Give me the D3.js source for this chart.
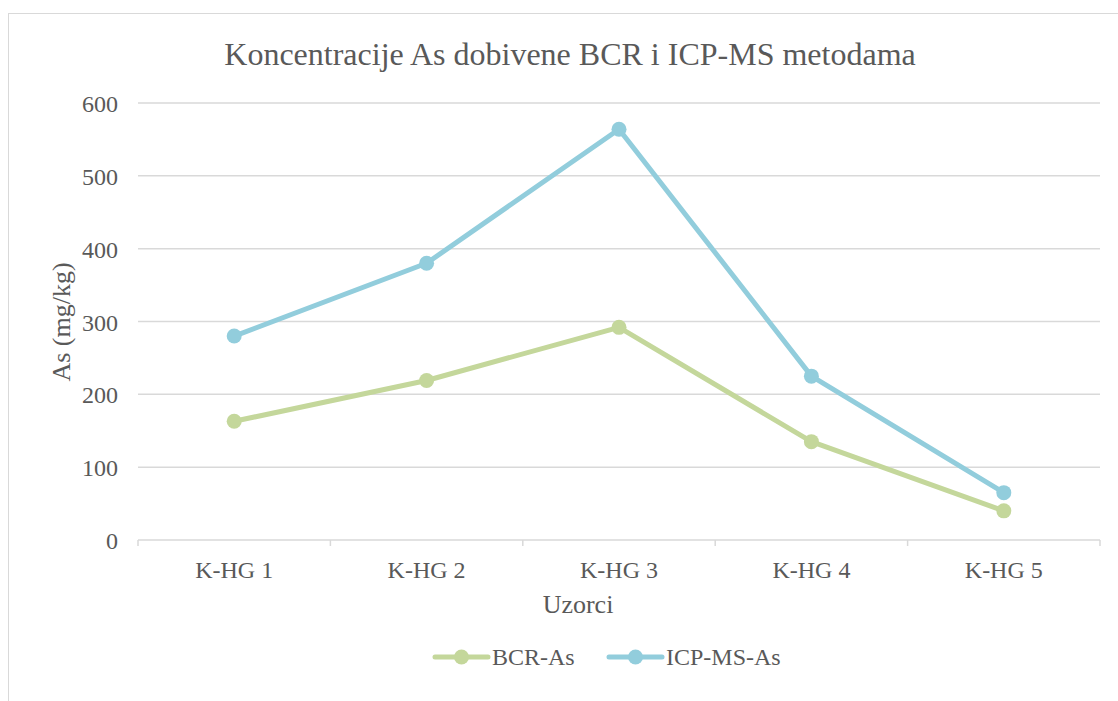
<!DOCTYPE html>
<html>
<head>
<meta charset="utf-8">
<script src="https://cdn.jsdelivr.net/npm/d3@7"></script>
<style>
  body { margin: 0; background: #fff; }
</style>
</head>
<body>
<div id="chart"></div>
<script>
const categories = ["K-HG 1", "K-HG 2", "K-HG 3", "K-HG 4", "K-HG 5"];
const bcr_as = [163, 219, 292, 135, 40];
const icp_as = [280, 380, 564, 225, 65];
const y_ticks = [0, 100, 200, 300, 400, 500, 600];
const series_names = ["BCR-As", "ICP-MS-As"];

const W = 1118, H = 701;
const plot = {left: 138, right: 1100, top: 103, bottom: 540};
const colors = ["#C4D79B", "#92CDDC"];
const font = "'Liberation Serif', 'DejaVu Serif', serif";

const svg = d3.select("#chart").append("svg")
    .attr("width", W)
    .attr("height", H)
    .attr("font-family", font);

//chart frame
svg.append("rect")
    .attr("x", 8.5).attr("y", 13.5)
    .attr("width", W).attr("height", H)
    .attr("fill", "none")
    .attr("stroke", "#d9d9d9");

function label(sel) {
    return sel.attr("font-family", font).attr("fill", "#595959");
}

label(svg.append("text"))
    .attr("x", 570).attr("y", 65)
    .attr("text-anchor", "middle")
    .attr("font-size", 32)
    .text("Koncentracije As dobivene BCR i ICP-MS metodama");

const x = d3.scaleBand()
    .domain(categories)
    .range([plot.left, plot.right]);
const y = d3.scaleLinear()
    .domain([0, 600])
    .range([plot.bottom, plot.top]);

//gridlines
svg.append("g").selectAll("line")
    .data(y_ticks.filter(d => d > 0))
    .enter()
    .append("line")
    .attr("x1", plot.left).attr("x2", plot.right)
    .attr("y1", d => y(d)).attr("y2", d => y(d))
    .attr("stroke", "#d9d9d9")
    .attr("stroke-width", 1.5);

//y tick labels
label(svg.append("g").selectAll("text")
    .data(y_ticks)
    .enter()
    .append("text"))
    .attr("x", 118)
    .attr("y", d => y(d) + 9)
    .attr("text-anchor", "end")
    .attr("font-size", 24)
    .text(d => d);

//x axis
const xAxis = svg.append("g")
    .attr("transform", `translate(0,${plot.bottom})`);
xAxis.append("line")
    .attr("x1", plot.left).attr("x2", plot.right)
    .attr("stroke", "#d9d9d9").attr("stroke-width", 1.5);
const bounds = categories.map(c => x(c)).concat([plot.right]);
xAxis.selectAll("line.tick")
    .data(bounds)
    .enter()
    .append("line")
    .attr("class", "tick")
    .attr("x1", d => d).attr("x2", d => d)
    .attr("y1", 0).attr("y2", 6)
    .attr("stroke", "#d9d9d9").attr("stroke-width", 1.5);
label(xAxis.selectAll("text")
    .data(categories)
    .enter()
    .append("text"))
    .attr("x", d => x(d) + x.bandwidth()/2)
    .attr("y", 38)
    .attr("text-anchor", "middle")
    .attr("font-size", 24)
    .text(d => d);

//axis titles
label(svg.append("text"))
    .attr("transform", "translate(70,322) rotate(-90)")
    .attr("text-anchor", "middle")
    .attr("font-size", 26)
    .text("As (mg/kg)");
label(svg.append("text"))
    .attr("x", 578).attr("y", 613)
    .attr("text-anchor", "middle")
    .attr("font-size", 26)
    .text("Uzorci");

//lines
const line = d3.line()
    .x((d, i) => x(categories[i]) + x.bandwidth()/2)
    .y(d => y(d));
[bcr_as, icp_as].forEach((vals, k) => {
    svg.append("path")
        .datum(vals)
        .attr("d", line)
        .attr("fill", "none")
        .attr("stroke", colors[k])
        .attr("stroke-width", 5)
        .attr("stroke-linejoin", "round");
    svg.append("g").selectAll("circle")
        .data(vals)
        .enter()
        .append("circle")
        .attr("cx", (d, i) => x(categories[i]) + x.bandwidth()/2)
        .attr("cy", d => y(d))
        .attr("r", 7.5)
        .attr("fill", colors[k]);
});

//legend
const legend_x = [433, 607];
series_names.forEach((name, k) => {
    const g = svg.append("g").attr("transform", `translate(${legend_x[k]},657)`);
    g.append("line")
        .attr("x1", 2).attr("x2", 55)
        .attr("stroke", colors[k])
        .attr("stroke-width", 5)
        .attr("stroke-linecap", "round");
    g.append("circle")
        .attr("cx", 28.5).attr("r", 7.5)
        .attr("fill", colors[k]);
    label(g.append("text"))
        .attr("x", 59).attr("y", 8)
        .attr("font-size", 24)
        .text(name);
});
</script>
</body>
</html>
